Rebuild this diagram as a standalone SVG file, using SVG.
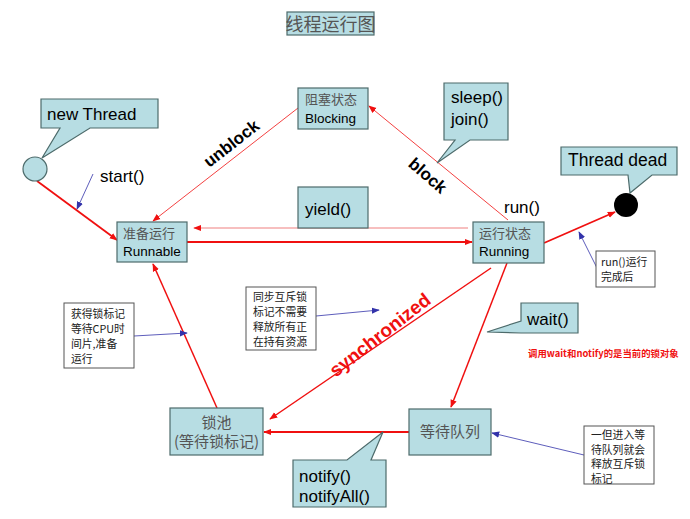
<svg xmlns="http://www.w3.org/2000/svg" width="690" height="519" viewBox="0 0 690 519">
<defs>
<style>
.box{fill:#b7dde3;stroke:#4d6b6b;stroke-width:1.2}
.note{fill:#fff;stroke:#555;stroke-width:1}
.en{font-family:"Liberation Sans",Arial,sans-serif;fill:#000}
.cn{font-family:"Noto Sans CJK SC","Liberation Sans",sans-serif;fill:#555}
.nt{font-family:"Noto Sans CJK SC","Liberation Sans",sans-serif;fill:#222;font-size:10.8px}
.red{stroke:#f01010;fill:none}
.blue{stroke:#3333aa;fill:none;stroke-width:0.8}
</style>
<marker id="ar" viewBox="0 0 10 10" refX="9" refY="5" markerWidth="8" markerHeight="8" markerUnits="userSpaceOnUse" orient="auto"><path d="M0,1 L10,5 L0,9 z" fill="#f01010"/></marker>
<marker id="ab" viewBox="0 0 10 10" refX="9" refY="5" markerWidth="8" markerHeight="8" markerUnits="userSpaceOnUse" orient="auto"><path d="M0,1 L10,5 L0,9 z" fill="#3333aa"/></marker>
</defs>
<rect width="690" height="519" fill="#fff"/>

<g id="title">
<rect class="box" x="287" y="12" width="87" height="23"/>
<text class="cn" x="330.500" y="30.500" font-size="18" text-anchor="middle" fill="#333">线程运行图</text>
</g>

<g id="connectors">
<line class="red" x1="37" y1="181" x2="117" y2="240" stroke-width="1.8" marker-end="url(#ar)"/>
<line class="red" x1="298" y1="108" x2="153" y2="221" stroke-width="0.8" marker-end="url(#ar)"/>
<line class="red" x1="508" y1="220" x2="369" y2="106" stroke-width="0.8" marker-end="url(#ar)"/>
<line x1="468" y1="228" x2="194" y2="228" stroke="#f08080" stroke-width="1.2" marker-end="url(#ar)"/>
<line class="red" x1="187" y1="242" x2="472" y2="242" stroke-width="1.8" marker-end="url(#ar)"/>
<line class="red" x1="544" y1="243" x2="615" y2="212" stroke-width="1.8" marker-end="url(#ar)"/>
<line class="red" x1="217" y1="408" x2="153" y2="264" stroke-width="1.5" marker-end="url(#ar)"/>
<line class="red" x1="491" y1="268" x2="270" y2="419" stroke-width="1.5" marker-end="url(#ar)"/>
<line class="red" x1="507" y1="263" x2="451" y2="407" stroke-width="1.5" marker-end="url(#ar)"/>
<line class="red" x1="409" y1="432" x2="264" y2="432" stroke-width="1.8" marker-end="url(#ar)"/>
<line class="blue" x1="93" y1="174" x2="77" y2="209" marker-end="url(#ab)"/>
<line class="blue" x1="597" y1="268" x2="579" y2="232" marker-end="url(#ab)"/>
<line class="blue" x1="134" y1="336" x2="187" y2="333" marker-end="url(#ab)"/>
<line class="blue" x1="316" y1="316" x2="379" y2="310" marker-end="url(#ab)"/>
<line class="blue" x1="584" y1="455" x2="492" y2="433" marker-end="url(#ab)"/>
</g>

<g id="labels">
<text class="en" x="100" y="182" font-size="17">start()</text>
<text class="en" x="504" y="213" font-size="17">run()</text>
<text class="en" font-size="17" font-weight="bold" text-anchor="middle" transform="translate(235,148) rotate(-38)">unblock</text>
<text class="en" font-size="17" font-weight="bold" text-anchor="middle" transform="translate(424,180) rotate(41)">block</text>
<text class="en" font-size="19" font-weight="bold" text-anchor="middle" style="fill:#f01010" transform="translate(384,340) rotate(-38)">synchronized</text>
<text x="528" y="357" font-size="9.4" font-weight="bold" fill="#f01010" font-family="Noto Sans CJK SC,Liberation Sans,sans-serif">调用wait和notify的是当前的锁对象</text>
</g>

<g id="newThread">
<path class="box" d="M41,99 H158 V128 H90 L42,158 L60,128 H41 Z"/>
<text class="en" x="47" y="120" font-size="17">new Thread</text>
<circle class="box" cx="35" cy="169" r="12"/>
</g>

<g id="blocking">
<rect class="box" x="298" y="88" width="70" height="41"/>
<text class="cn" x="305" y="104" font-size="13">阻塞状态</text>
<text class="en" x="305" y="123" font-size="13.5">Blocking</text>
</g>

<g id="sleepJoin">
<path class="box" d="M444,83 H508 V140 H470 L437,163 L455,140 H444 Z"/>
<text class="en" x="451" y="103" font-size="17">sleep()</text>
<text class="en" x="451" y="125" font-size="17">join()</text>
</g>

<g id="yield">
<rect class="box" x="298" y="187" width="70" height="41"/>
<text class="en" x="305" y="215" font-size="17">yield()</text>
</g>

<g id="runnable">
<rect class="box" x="117" y="222" width="70" height="40"/>
<text class="cn" x="123" y="238" font-size="13">准备运行</text>
<text class="en" x="123" y="256" font-size="13.5">Runnable</text>
</g>

<g id="running">
<rect class="box" x="473" y="222" width="71" height="41"/>
<text class="cn" x="479" y="238" font-size="13">运行状态</text>
<text class="en" x="479" y="256" font-size="13.5">Running</text>
</g>

<g id="threadDead">
<path class="box" d="M561,147 H677 V175 H652 L630,193 L628,175 H561 Z"/>
<text class="en" x="568" y="166" font-size="17.5">Thread dead</text>
<circle cx="626" cy="205" r="12" fill="#000"/>
</g>

<g id="noteRun">
<rect class="note" x="596" y="251" width="59" height="36"/>
<text class="nt" x="601" y="266">run()运行</text>
<text class="nt" x="601" y="281">完成后</text>
</g>

<g id="noteLock">
<rect class="note" x="64" y="303" width="70" height="65"/>
<text class="nt" x="71" y="318">获得锁标记</text>
<text class="nt" x="71" y="333">等待CPU时</text>
<text class="nt" x="71" y="348">间片,准备</text>
<text class="nt" x="71" y="363">运行</text>
</g>

<g id="noteSync">
<rect class="note" x="246" y="287" width="70" height="63"/>
<text class="nt" x="253" y="301">同步互斥锁</text>
<text class="nt" x="253" y="316">标记不需要</text>
<text class="nt" x="253" y="331">释放所有正</text>
<text class="nt" x="253" y="346">在持有资源</text>
</g>

<g id="wait">
<path class="box" d="M521,303 H578 V333 H521 L487,332 L521,321 Z"/>
<text class="en" x="527" y="325" font-size="17">wait()</text>
</g>

<g id="lockPool">
<rect class="box" x="170" y="408" width="93" height="47"/>
<text class="cn" x="216.500" y="428" font-size="15" text-anchor="middle">锁池</text>
<text class="cn" x="216.500" y="447" font-size="15" text-anchor="middle">(等待锁标记)</text>
</g>

<g id="waitQueue">
<rect class="box" x="409" y="409" width="82" height="46"/>
<text class="cn" x="450" y="437" font-size="15" text-anchor="middle">等待队列</text>
</g>

<g id="notify">
<path class="box" d="M293,460 H347 L383,432 L371,460 H386 V507 H293 Z"/>
<text class="en" x="299" y="482" font-size="17">notify()</text>
<text class="en" x="299" y="502" font-size="17">notifyAll()</text>
</g>

<g id="noteQueue">
<rect class="note" x="584" y="426" width="70" height="58"/>
<text class="nt" x="591" y="439" font-size="10.2">一但进入等</text>
<text class="nt" x="591" y="453.500" font-size="10.2">待队列就会</text>
<text class="nt" x="591" y="468" font-size="10.2">释放互斥锁</text>
<text class="nt" x="591" y="482.500" font-size="10.2">标记</text>
</g>
</svg>
